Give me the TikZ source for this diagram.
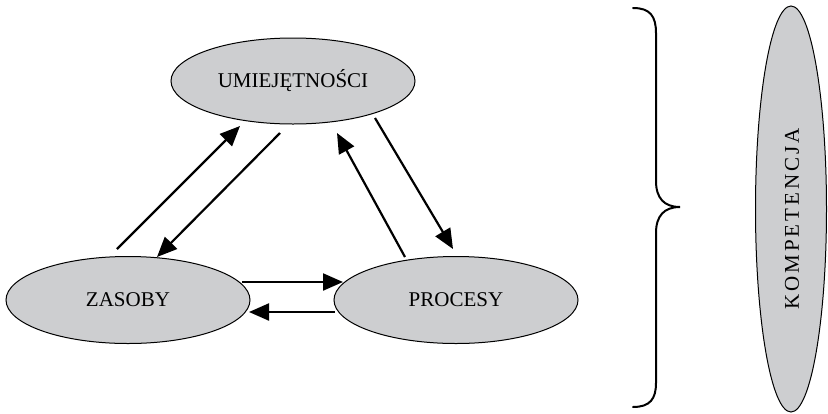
\documentclass[tikz,border=0pt]{standalone}
\usepackage{fontspec}
\setmainfont{Liberation Serif}
\newfontfamily\spacedfont[LetterSpace=14]{Liberation Serif}
\usetikzlibrary{arrows.meta,shapes.geometric}
\definecolor{ellfill}{RGB}{205,206,208}
\tikzset{
  blob/.style={ellipse, draw=black, line width=1pt, fill=ellfill,
    inner sep=0pt, font=\fontsize{21}{24}\selectfont},
  flow/.style={line width=2.2pt, -{Triangle[length=20pt,width=17pt]}},
  bracket/.style={line width=2pt, line cap=round}
}
\begin{document}
\begin{tikzpicture}[x=1pt,y=-1pt]
\useasboundingbox (0,0) rectangle (828,413);

% the three elements
\node[blob, minimum width=244pt, minimum height=86pt] (skills) at (293,81) {UMIEJĘTNOŚCI};
\node[blob, minimum width=244pt, minimum height=87pt] (res) at (128,300) {ZASOBY};
\node[blob, minimum width=244pt, minimum height=87pt] (proc) at (456,300) {PROCESY};

% the whole: competence
\node[blob, minimum width=71pt, minimum height=406pt] (comp) at (791,209) {};
\node[rotate=90, font=\fontsize{21}{24}\spacedfont] (complabel) at (792,219) {KOMPETENCJA};

% arrow end points
\coordinate (a1s) at (117,249); \coordinate (a1e) at (240,126);
\coordinate (a2s) at (280,133); \coordinate (a2e) at (157,257);
\coordinate (a3s) at (405,257); \coordinate (a3e) at (337,133);
\coordinate (a4s) at (375,118); \coordinate (a4e) at (453,249);
\coordinate (a5s) at (242,282); \coordinate (a5e) at (343,282);
\coordinate (a6s) at (335,312); \coordinate (a6e) at (249,312);

\draw[flow] (a1s) -- (a1e);
\draw[flow] (a2s) -- (a2e);
\draw[flow] (a3s) -- (a3e);
\draw[flow] (a4s) -- (a4e);
\draw[flow] (a5s) -- (a5e);
\draw[flow] (a6s) -- (a6e);

% curly brace
\coordinate (btop) at (633,8);
\coordinate (btip) at (680,207);
\coordinate (bbot) at (633,407);
\draw[bracket] (btop) .. controls (650,8) and (656,16) .. (656,33)
  -- (656,181) .. controls (656,198) and (664,207) .. (btip)
  .. controls (664,207) and (656,216) .. (656,233)
  -- (656,383) .. controls (656,399) and (650,407) .. (bbot);
\end{tikzpicture}
\end{document}
